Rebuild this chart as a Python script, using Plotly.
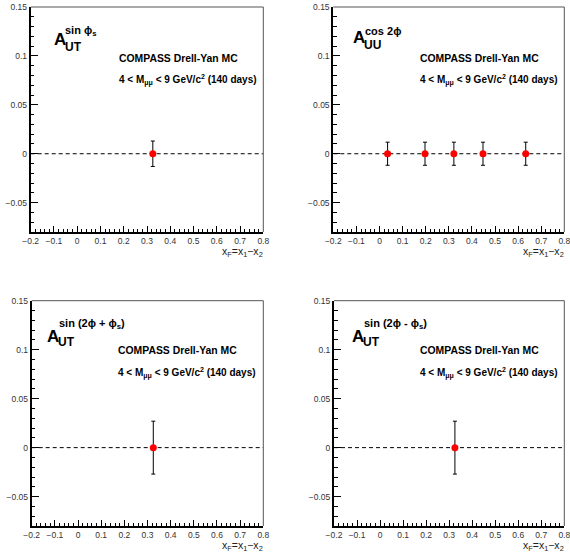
import plotly.graph_objects as go

W, H = 570, 554

# ---------------- data ----------------
xf_sin_phis = [0.325]
a_sin_phis = [0.0]
err_sin_phis = [0.013]

xf_cos2phi = [0.035, 0.197, 0.322, 0.448, 0.633]
a_cos2phi = [0.0, 0.0, 0.0, 0.0, 0.0]
err_cos2phi = [0.0118, 0.0118, 0.0118, 0.0118, 0.0118]

xf_sin2phi_plus = [0.325]
a_sin2phi_plus = [0.0]
err_sin2phi_plus = [0.027]

xf_sin2phi_minus = [0.325]
a_sin2phi_minus = [0.0]
err_sin2phi_minus = [0.027]

x_range = [-0.2, 0.8]
y_range = [-0.08, 0.15]
x_tickvals = [-0.2, -0.1, 0.0, 0.1, 0.2, 0.3, 0.4, 0.5, 0.6, 0.7, 0.8]
x_ticktext = ["\u22120.2", "\u22120.1", "0", "0.1", "0.2", "0.3", "0.4", "0.5", "0.6", "0.7", "0.8"]
y_tickvals = [-0.05, 0.0, 0.05, 0.1, 0.15]
y_ticktext = ["\u22120.05", "0", "0.05", "0.1", "0.15"]
zero_level = 0.0

line1 = "<b>COMPASS Drell-Yan MC</b>"
line2 = "<b>4 &lt; M<sub>\u03bc\u03bc</sub> &lt; 9 GeV/c<sup>2</sup> (140 days)</b>"
xtitle = "x<sub>F</sub>=x<sub>1</sub>\u2212x<sub>2</sub>"

panels = [
    dict(x=xf_sin_phis, y=a_sin_phis, e=err_sin_phis,
         A="A", sub="UT", sup="sin \u03d5<sub>s</sub>",
         box=(30.7, 7.0, 263.3, 232.0), a_dx=21, a_dy=32, sub_dx=32, sub_dy=40, sup_dx=32, sup_dy=24,
         t_dx=86, t_dy1=51, t_dy2=73),
    dict(x=xf_cos2phi, y=a_cos2phi, e=err_cos2phi,
         A="A", sub="UU", sup="cos 2\u03d5",
         box=(333.3, 7.0, 564.3, 232.0), a_dx=18, a_dy=31, sub_dx=29, sub_dy=38, sup_dx=29.5, sup_dy=24,
         t_dx=85, t_dy1=51, t_dy2=73),
    dict(x=xf_sin2phi_plus, y=a_sin2phi_plus, e=err_sin2phi_plus,
         A="A", sub="UT", sup="sin (2\u03d5 + \u03d5<sub>s</sub>)",
         box=(31.7, 300.7, 263.3, 526.0), a_dx=13.5, a_dy=36, sub_dx=24.5, sub_dy=41, sup_dx=25, sup_dy=23,
         t_dx=84, t_dy1=50, t_dy2=72),
    dict(x=xf_sin2phi_minus, y=a_sin2phi_minus, e=err_sin2phi_minus,
         A="A", sub="UT", sup="sin (2\u03d5 - \u03d5<sub>s</sub>)",
         box=(334.0, 300.7, 564.3, 526.0), a_dx=15.5, a_dy=36, sub_dx=26.5, sub_dy=41, sup_dx=27.5, sup_dy=23,
         t_dx=84, t_dy1=50, t_dy2=72),
]

FONT = "Liberation Sans, Arial, Helvetica, sans-serif"


def px(xp):
    return xp / W


def py(yp):
    return 1 - yp / H


fig = go.Figure()
shapes = []
annotations = []

for i, p in enumerate(panels):
    n = "" if i == 0 else str(i + 1)
    xa, ya = "x" + n, "y" + n
    l, t, r, b = p["box"]

    fig.add_trace(go.Scatter(
        x=p["x"], y=p["y"], mode="markers", xaxis=xa, yaxis=ya,
        marker=dict(color="#ff0000", size=7, line=dict(width=0)),
        error_y=dict(type="data", array=p["e"], visible=True, color="black",
                     thickness=1, width=2),
        showlegend=False, cliponaxis=False,
    ))

    common = dict(showline=True, linewidth=2, linecolor="black", mirror=False,
                  showgrid=False, zeroline=False, ticks="inside", tickcolor="black",
                  tickwidth=1, tickfont=dict(family=FONT, size=8.5, color="#333"),
                  fixedrange=True, automargin=False, ticklabeloverflow="allow")
    fig.layout["xaxis" + n] = dict(
        domain=[px(l), px(r)], range=x_range, anchor=ya,
        tickmode="array", tickvals=x_tickvals, ticktext=x_ticktext, ticklen=6,
        minor=dict(tick0=0, dtick=0.02, ticklen=3.5, ticks="inside", tickcolor="black", tickwidth=1),
        **common)
    fig.layout["yaxis" + n] = dict(
        domain=[py(b), py(t)], range=y_range, anchor=xa,
        tickmode="array", tickvals=y_tickvals, ticktext=y_ticktext, ticklen=7,
        minor=dict(tick0=0, dtick=0.01, ticklen=3.5, ticks="inside", tickcolor="black", tickwidth=1),
        **common)

    dom = dict(xref=xa + " domain", yref=ya + " domain")
    # top and right frame
    shapes.append(dict(type="line", x0=0, x1=1, y0=1, y1=1, line=dict(color="#555", width=1), **dom))
    shapes.append(dict(type="line", x0=1, x1=1, y0=0, y1=1, line=dict(color="#555", width=1), **dom))
    # dashed zero line
    shapes.append(dict(type="line", xref=xa, yref=ya, x0=x_range[0], x1=x_range[1],
                       y0=zero_level, y1=zero_level, layer="below",
                       line=dict(color="black", width=1, dash="4px,3px")))

    def ann(text, dx, dy, size, xanchor="left", yanchor="middle", color="black"):
        annotations.append(dict(
            text=text, x=px(l + dx), y=py(t + dy), xref="paper", yref="paper",
            xanchor=xanchor, yanchor=yanchor, showarrow=False,
            font=dict(family=FONT, size=size, color=color)))

    ann("<b>" + p["A"] + "</b>", p["a_dx"], p["a_dy"], 17)
    ann("<b>" + p["sub"] + "</b>", p["sub_dx"], p["sub_dy"], 12)
    ann("<b>" + p["sup"] + "</b>", p["sup_dx"], p["sup_dy"], 11)
    ann(line1, p["t_dx"], p["t_dy1"], 10.4)
    ann(line2, p["t_dx"], p["t_dy2"], 10)
    # axis title
    annotations.append(dict(
        text=xtitle, x=px(r + 2), y=py(b + 11), xref="paper", yref="paper",
        xanchor="right", yanchor="top", showarrow=False,
        font=dict(family=FONT, size=10.5, color="#222")))

fig.update_layout(
    width=W, height=H, margin=dict(l=0, r=0, t=0, b=0, pad=0, autoexpand=False),
    paper_bgcolor="white", plot_bgcolor="white",
    shapes=shapes, annotations=annotations, showlegend=False,
)

fig.write_html(
    "out.html", config=dict(displayModeBar=False),
    post_script="document.body.style.margin='0';document.body.style.padding='0';"
                "document.documentElement.style.margin='0';document.body.style.overflow='hidden';",
)
